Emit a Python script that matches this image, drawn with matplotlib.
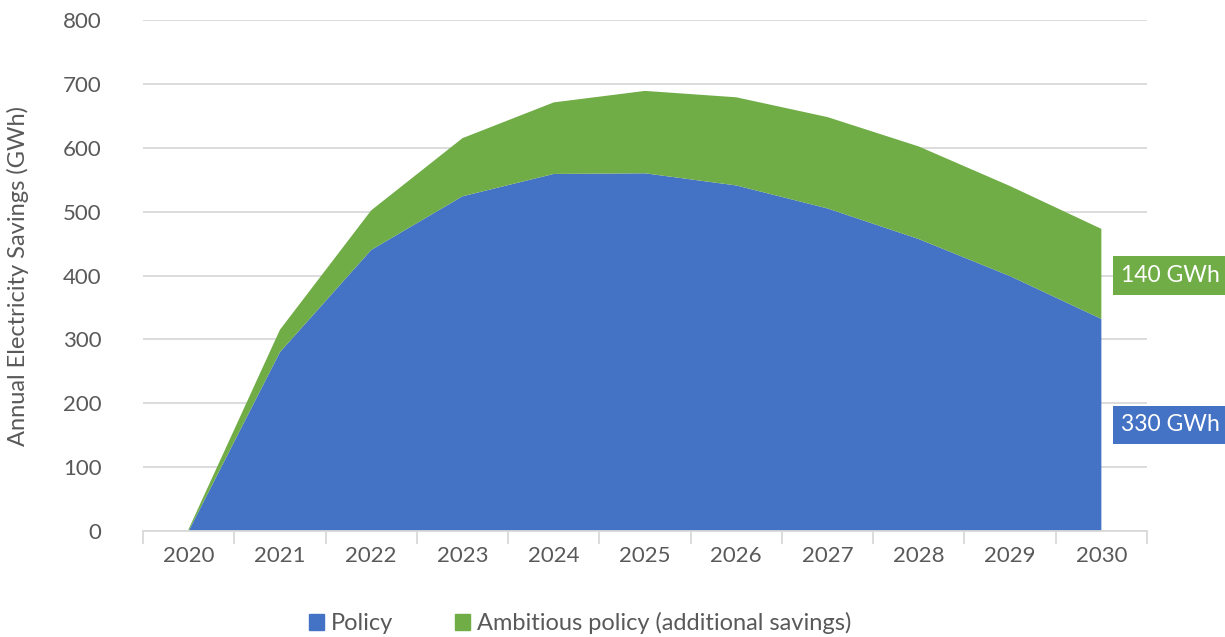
import numpy as np
import matplotlib
matplotlib.use('Agg')
import matplotlib.pyplot as plt
from matplotlib.patches import Patch

years = ['2020', '2021', '2022', '2023', '2024', '2025', '2026', '2027', '2028', '2029', '2030']
policy = [0, 280, 440, 524, 559, 560, 541, 505, 457, 399, 332]
ambitious_extra = [3, 35, 62, 91, 112, 129, 138, 143, 145, 141, 141]
end_labels = ['140 GWh', '330 GWh']
end_label_y = [400, 166]

BLUE = '#4472C4'; GREEN = '#70AD47'; GREY = '#595959'; GRID = '#D9D9D9'
plt.rcParams['font.family'] = ['Lato', 'DejaVu Sans']

fig = plt.figure(figsize=(12.25, 6.37), dpi=100)
ax = fig.add_axes([143/1225, 1-531/637, (1147-143)/1225, (531-20)/637])
x = np.arange(len(years))
ax.stackplot(x, policy, ambitious_extra, colors=[BLUE, GREEN], linewidth=0)
ax.set_xlim(-0.5, len(years)-0.5); ax.set_ylim(0, 800)
ax.set_yticks(range(0, 801, 100))
ax.set_xticks(x); ax.set_xticklabels(years)
ax.set_xticks(np.arange(-0.5, len(years), 1), minor=True)
ax.tick_params(axis='x', which='major', length=0, pad=11, labelsize=16, labelcolor=GREY)
ax.tick_params(axis='x', which='minor', length=9, color=GRID, width=1.3)
ax.tick_params(axis='y', length=0, pad=30, labelsize=16, labelcolor=GREY)
ax.grid(axis='y', color=GRID, lw=1.3); ax.set_axisbelow(True)
for s in ['top', 'right', 'left']: ax.spines[s].set_visible(False)
ax.spines['bottom'].set_color(GRID); ax.spines['bottom'].set_linewidth(1.3)
ax.set_ylabel('Annual Electricity Savings (GWh)', fontsize=17, color=GREY, labelpad=24)

for txt, yv, c in zip(end_labels, end_label_y, [GREEN, BLUE]):
    ax.text(10.22, yv, txt, fontsize=16.5, color='white', va='center', ha='left',
            bbox=dict(boxstyle='square,pad=0.38', fc=c, ec='none'), clip_on=False)

handles = [Patch(color=BLUE, label='Policy'), Patch(color=GREEN, label='Ambitious policy (additional savings)')]
fig.legend(handles=handles, loc='center', bbox_to_anchor=(580/1225, 1-623/637), ncol=2, frameon=False,
           fontsize=17, labelcolor=GREY, handlelength=0.65, handleheight=0.65, handletextpad=0.3, columnspacing=2.6)
fig.savefig('out.png', dpi=100)
